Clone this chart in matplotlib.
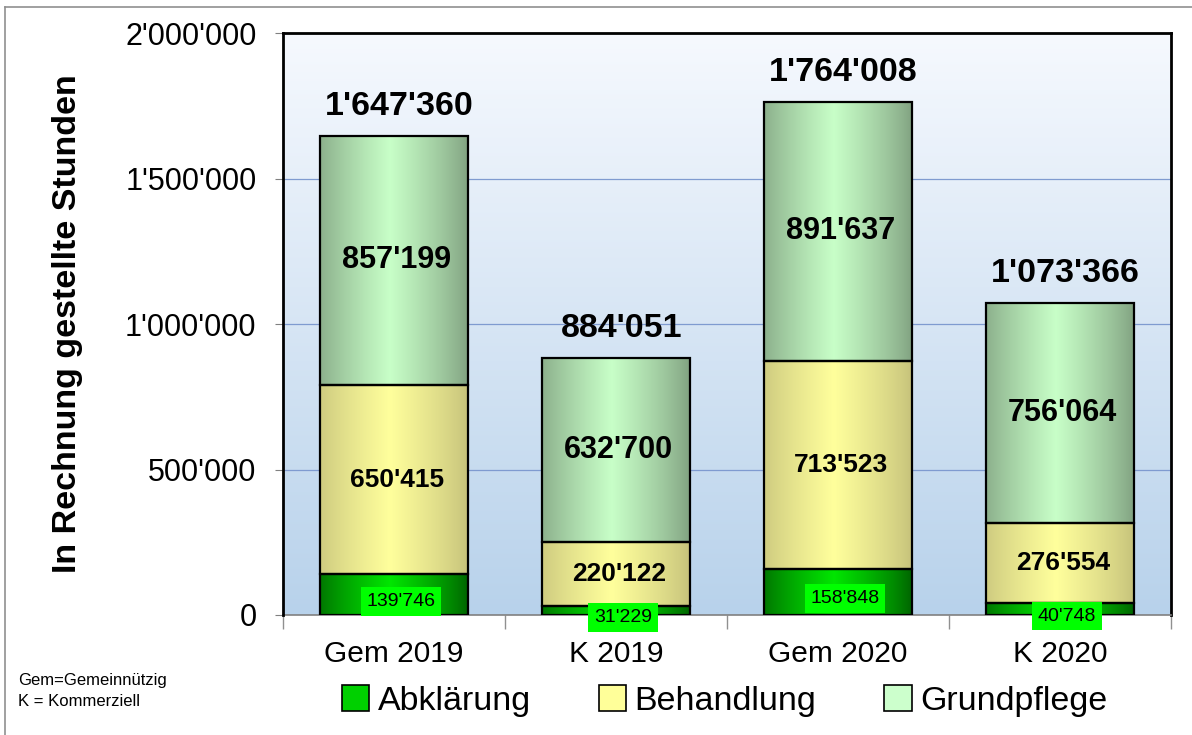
import numpy as np
import matplotlib.pyplot as plt
from matplotlib.colors import to_rgb
from matplotlib.patches import Patch
from matplotlib.lines import Line2D

plt.rcParams['font.family'] = ['Liberation Sans', 'DejaVu Sans']

categories = ['Gem 2019', 'K 2019', 'Gem 2020', 'K 2020']
abklaerung = [139746, 31229, 158848, 40748]
behandlung = [650415, 220122, 713523, 276554]
grundpflege = [857199, 632700, 891637, 756064]
totals = [1647360, 884051, 1764008, 1073366]
series_names = ['Abklärung', 'Behandlung', 'Grundpflege']
yticks = [0, 500000, 1000000, 1500000, 2000000]


def fmt(v):
    return f"{v:,}".replace(",", "'")


def hgrad(edge, center, n=200):
    # darker at the sides, light in the middle
    x = np.linspace(0, 1, n)
    t = 1 - np.abs(x - 0.47) / 0.53
    t = np.clip(t, 0, 1) ** 0.8
    e, c = np.array(to_rgb(edge)), np.array(to_rgb(center))
    return (e[None, :] * (1 - t[:, None]) + c[None, :] * t[:, None])[None, :, :]


grads = [hgrad('#006000', '#00e600'),
         hgrad('#c4c07a', '#ffff9c'),
         hgrad('#7f9f7f', '#c8ffc8')]
legend_colors = ['#00d000', '#ffff99', '#ccffcc']
label_sizes = [14, 19, 22]

fig = plt.figure(figsize=(11.92, 7.35), dpi=100)
ax = fig.add_axes([283 / 1192, 120 / 735, 888 / 1192, 582 / 735])

# background gradient
bg = np.linspace(0, 1, 256)[:, None]
top, bot = np.array(to_rgb('#f6f9fe')), np.array(to_rgb('#b8d2eb'))
bgimg = (top * (1 - bg) + bot * bg)[:, None, :]
ax.imshow(bgimg, extent=(0, 1, 0, 1), transform=ax.transAxes, aspect='auto', zorder=0)

x = np.arange(len(categories))
w = 0.67
ax.set_xlim(-0.5, len(categories) - 0.5)
ax.set_ylim(0, 2000000)

for yv in yticks[1:-1]:
    ax.axhline(yv, color='#7f9bd0', lw=0.9, zorder=1)

stacks = [abklaerung, behandlung, grundpflege]
bottoms = np.zeros(len(categories))
for s, vals in enumerate(stacks):
    for i, v in enumerate(vals):
        b = bottoms[i]
        ax.imshow(grads[s], extent=(x[i] - w / 2, x[i] + w / 2, b, b + v),
                  aspect='auto', zorder=2, interpolation='bilinear')
    ax.bar(x, vals, w, bottom=bottoms, facecolor='none', edgecolor='black',
           linewidth=1.6, zorder=3)
    for i, v in enumerate(vals):
        yc = bottoms[i] + v / 2
        if s == 0:
            ax.annotate(fmt(v), (x[i], yc), xytext=(5, -5), textcoords='offset points',
                        ha='center', va='center', fontsize=label_sizes[s], zorder=5,
                        bbox=dict(boxstyle='square,pad=0.3', facecolor='#00ff00',
                                  edgecolor='none'))
        else:
            ax.annotate(fmt(v), (x[i], yc), xytext=(2, 0), textcoords='offset points',
                        ha='center', va='center', fontsize=label_sizes[s],
                        fontweight='bold', zorder=5)
    bottoms += np.array(vals)

for i, t in enumerate(totals):
    ax.annotate(fmt(t), (x[i], t), xytext=(4, 15), textcoords='offset points',
                ha='center', va='baseline', fontsize=24.5, fontweight='bold', zorder=5)

ax.set_yticks(yticks)
ax.set_yticklabels([fmt(v) for v in yticks], fontsize=22)
ax.tick_params(axis='y', length=6, color='#808080', pad=13)
ax.set_xticks(x)
ax.set_xticklabels(categories, fontsize=21.5)
ax.set_xticks(np.arange(-0.5, len(categories)), minor=True)
ax.tick_params(axis='x', which='major', length=0, pad=18)
ax.tick_params(axis='x', which='minor', length=10, color='#909090', width=1)

for side in ['left', 'top', 'right']:
    ax.spines[side].set_color('black')
    ax.spines[side].set_linewidth(2)
ax.spines['bottom'].set_color('#808080')
ax.spines['bottom'].set_linewidth(1.2)
ax.spines['left'].set_zorder(6)

ax.set_ylabel('In Rechnung gestellte Stunden', fontsize=24.5, fontweight='bold')
ax.yaxis.set_label_coords((83 - 283) / 888, 0.5)

handles = [Patch(facecolor=c, edgecolor='black', linewidth=1.2) for c in legend_colors]
fig.legend(handles, series_names, loc='center', bbox_to_anchor=(0.608, 0.046), ncol=3,
           frameon=False, fontsize=24.5, handlelength=0.8, handleheight=0.8,
           handletextpad=0.25, columnspacing=2.0, borderpad=0)

fig.text(18 / 1192, 1 - 680 / 735, 'Gem=Gemeinnützig', fontsize=12, va='center')
fig.text(18 / 1192, 1 - 701 / 735, 'K = Kommerziell', fontsize=12, va='center')

# slide border (top and left)
fig.add_artist(Line2D([5 / 1192, 1], [1 - 7 / 735, 1 - 7 / 735], color='#909090', lw=1.2))
fig.add_artist(Line2D([5 / 1192, 5 / 1192], [0, 1 - 7 / 735], color='#909090', lw=1.2))

fig.savefig('out.png', dpi=100)
